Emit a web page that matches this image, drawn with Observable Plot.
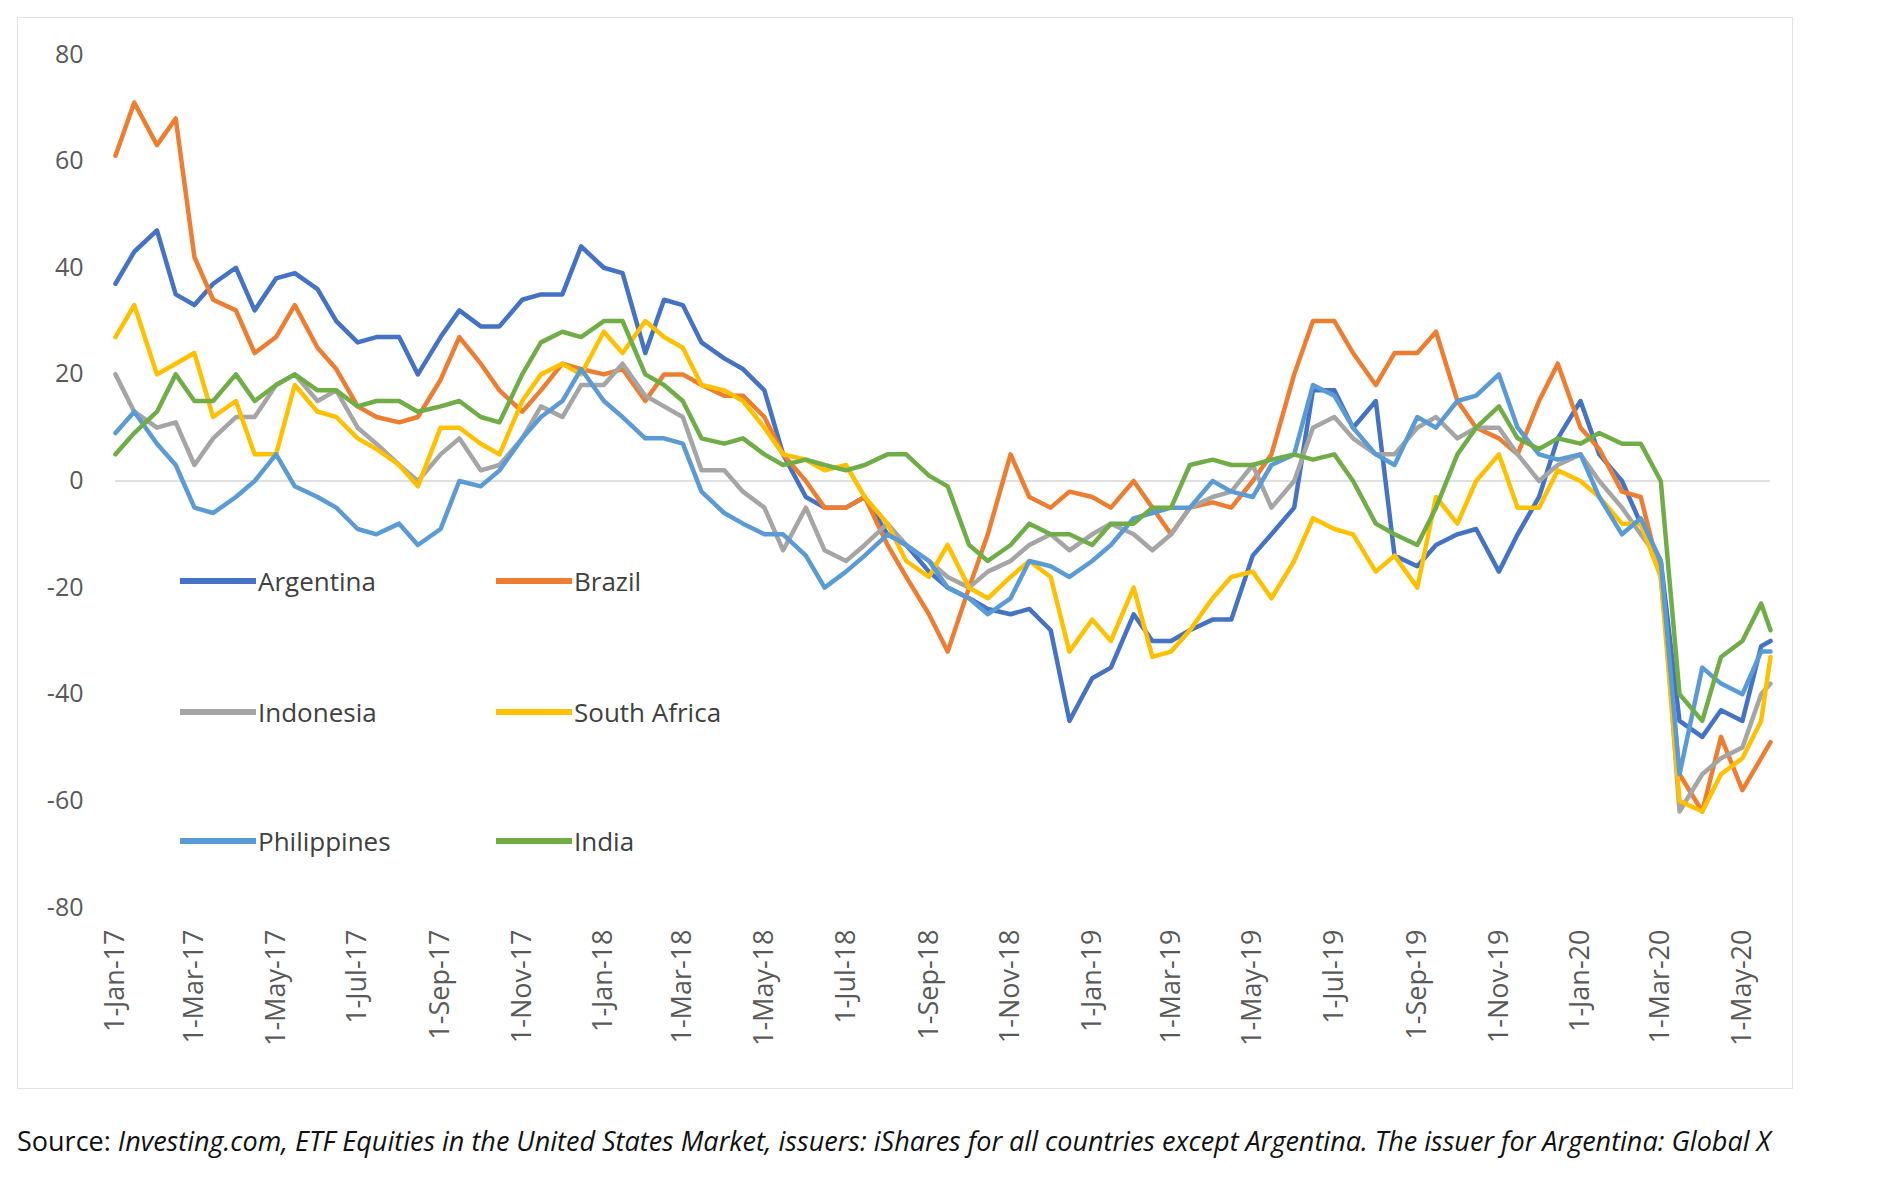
<!DOCTYPE html>
<html>
<head>
<meta charset="utf-8">
<script src="https://cdn.jsdelivr.net/npm/d3@7"></script>
<script src="https://cdn.jsdelivr.net/npm/@observablehq/plot@0.6"></script>
<style>
  body { margin: 0; background: #fff; font-family: "Open Sans", "Liberation Sans", sans-serif; }
  #wrap { position: relative; width: 1884px; height: 1190px; }
  #frame { position: absolute; left: 17px; top: 17px; width: 1774px; height: 1070px; border: 1px solid #e3e3e3; }
  #chart { position: absolute; left: 0; top: 0; }
  .leg { position: absolute; display: flex; align-items: center; font-size: 26px; color: #404040; }
  .leg span.sw { display: inline-block; width: 76px; height: 6px; margin-right: 2px; }
  #caption { position: absolute; left: 17px; top: 1122px; font-size: 27px; color: #111; white-space: nowrap; }
</style>
</head>
<body>
<div id="wrap">
  <div id="frame"></div>
  <div id="chart"></div>
  <div id="legend"></div>
  <div id="caption">Source: <i>Investing.com, ETF Equities in the United States Market, issuers: iShares for all countries except Argentina. The issuer for Argentina: Global X</i></div>
</div>
<script>
// fechas: 1 y 15 de cada mes, ene-2017 a may-2020, más 22-may-2020
const dates = []
for (let m = 0; m < 41; m++) {
  dates.push(new Date(Date.UTC(2017, m, 1)))
  dates.push(new Date(Date.UTC(2017, m, 15)))
}
dates.push(new Date(Date.UTC(2020, 4, 22)))

const argentina = [
  37,43,47,35,33,37,40,32,38,39,36,30,26,27,27,20,27,32,29,29,34,35,35,44,
  40,39,24,34,33,26,23,21,17,5,-3,-5,-5,-3,-10,-12,-17,-20,-22,-24,-25,-24,-28,-45,
  -37,-35,-25,-30,-30,-28,-26,-26,-14,-10,-5,17,17,10,15,-14,-16,-12,-10,-9,-17,-10,-3,8,
  15,5,0,-8,-15,-45,-48,-43,-45,-31,-30]
const brazil = [
  61,71,63,68,42,34,32,24,27,33,25,21,14,12,11,12,19,27,22,17,13,17,22,21,
  20,21,15,20,20,18,16,16,12,5,0,-5,-5,-3,-12,-18,-25,-32,-20,-10,5,-3,-5,-2,
  -3,-5,0,-5,-10,-5,-4,-5,0,5,20,30,30,24,18,24,24,28,15,10,8,5,15,22,
  10,6,-2,-3,-18,-55,-62,-48,-58,-52,-49]
const indonesia = [
  20,13,10,11,3,8,12,12,18,20,15,17,10,7,3,0,5,8,2,3,8,14,12,18,
  18,22,16,14,12,2,2,-2,-5,-13,-5,-13,-15,-12,-8,-12,-15,-18,-20,-17,-15,-12,-10,-13,
  -10,-8,-10,-13,-10,-5,-3,-2,3,-5,0,10,12,8,5,5,10,12,8,10,10,5,0,3,
  5,0,-5,-10,-15,-62,-55,-52,-50,-40,-38]
const southAfrica = [
  27,33,20,22,24,12,15,5,5,18,13,12,8,6,3,-1,10,10,7,5,15,20,22,20,
  28,24,30,27,25,18,17,15,10,5,4,2,3,-3,-8,-15,-18,-12,-20,-22,-18,-15,-18,-32,
  -26,-30,-20,-33,-32,-28,-22,-18,-17,-22,-15,-7,-9,-10,-17,-14,-20,-3,-8,0,5,-5,-5,2,
  0,-3,-8,-8,-18,-60,-62,-55,-52,-45,-33]
const philippines = [
  9,13,7,3,-5,-6,-3,0,5,-1,-3,-5,-9,-10,-8,-12,-9,0,-1,2,8,12,15,21,
  15,12,8,8,7,-2,-6,-8,-10,-10,-14,-20,-17,-14,-10,-12,-15,-20,-22,-25,-22,-15,-16,-18,
  -15,-12,-7,-6,-5,-5,0,-2,-3,3,5,18,16,10,5,3,12,10,15,16,20,10,5,4,
  5,-3,-10,-7,-15,-55,-35,-38,-40,-32,-32]
const india = [
  5,9,13,20,15,15,20,15,18,20,17,17,14,15,15,13,14,15,12,11,20,26,28,27,
  30,30,20,18,15,8,7,8,5,3,4,3,2,3,5,5,1,-1,-12,-15,-12,-8,-10,-10,
  -12,-8,-8,-5,-5,3,4,3,3,4,5,4,5,0,-8,-10,-12,-5,5,10,14,8,6,8,
  7,9,7,7,0,-40,-45,-33,-30,-23,-28]

const countries = ["Argentina", "Brazil", "Indonesia", "South Africa", "Philippines", "India"]
const colors = ["#4472C4", "#ED7D31", "#A5A5A5", "#FFC000", "#5B9BD5", "#70AD47"]
const series = [argentina, brazil, indonesia, southAfrica, philippines, india]

const data = series.flatMap((vals, i) => vals.map((v, j) => ({country: countries[i], date: dates[j], value: v})))

const chart = Plot.plot({
  width: 1884,
  height: 1100,
  marginLeft: 115,
  marginRight: 114,
  marginTop: 54,
  marginBottom: 193,
  style: {fontFamily: "Open Sans, Liberation Sans, sans-serif", fontSize: "25px", color: "#595959", background: "transparent"},
  x: {type: "utc", domain: [new Date(Date.UTC(2017, 0, 1)), new Date(Date.UTC(2020, 4, 22))]},
  y: {domain: [-80, 80]},
  color: {domain: countries, range: colors},
  marks: [
    Plot.ruleY([0], {stroke: "#e0e0e0", strokeWidth: 2}),
    Plot.axisY({ticks: d3.range(-80, 81, 20), tickSize: 0, tickPadding: 32, label: null, tickFormat: d => d, fontSize: 25}),
    Plot.axisX({ticks: d3.utcMonth.every(2), tickFormat: d3.utcFormat("%-d-%b-%y"), tickRotate: -90, tickSize: 0, tickPadding: 22, label: null, fontSize: 27}),
    Plot.line(data, {x: "date", y: "value", z: "country", stroke: "country", strokeWidth: 4.5})
  ]
})
document.getElementById("chart").append(chart)

// leyenda dentro del área del gráfico, 3 filas x 2 columnas
const legPos = [[180, 581], [496, 581], [180, 712], [496, 712], [180, 841], [496, 841]]
const legend = document.getElementById("legend")
countries.forEach((c, i) => {
  const d = document.createElement("div")
  d.className = "leg"
  d.style.left = legPos[i][0] + "px"
  d.style.top = (legPos[i][1] - 18) + "px"
  d.innerHTML = `<span class="sw" style="background:${colors[i]}"></span>${c}`
  legend.append(d)
})
</script>
</body>
</html>
